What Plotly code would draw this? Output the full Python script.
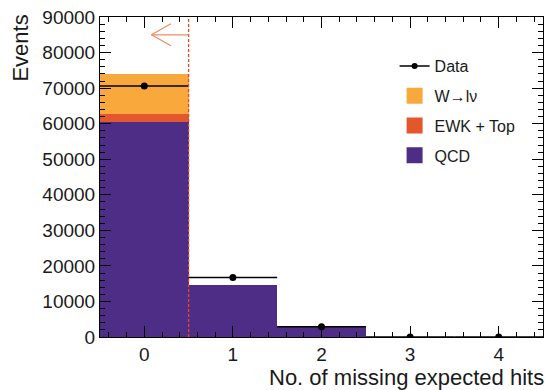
import plotly.graph_objects as go

# ---- data ----
bins = [0, 1, 2, 3, 4]
qcd = [60400, 14700, 3100, 0, 0]
ewk = [2300, 0, 0, 0, 0]
wlnu = [11200, 0, 0, 0, 0]
data = [70600, 16700, 2900, 0, 0]
bin_halfwidth = [0.5, 0.5, 0.5, 0.5, 0.5]

y_ticks = [0, 10000, 20000, 30000, 40000, 50000, 60000, 70000, 80000, 90000]
x_ticks = [0, 1, 2, 3, 4]

cut_value = 0.5
arrow_y = 85000
arrow_tip = 0.08

C_QCD = "#4E2D86"
C_EWK = "#E4572E"
C_W = "#F9A83C"
C_CUT = "#E8452A"
C_ARROW = "#F28A66"
TXT = "#1a1a1a"

FONT = "Liberation Sans, Arial, Helvetica, sans-serif"

fig = go.Figure()
fig.add_trace(go.Bar(x=bins, y=qcd, width=1, marker=dict(color=C_QCD, line=dict(width=0)),
                     name="QCD", showlegend=False))
fig.add_trace(go.Bar(x=bins, y=ewk, width=1, marker=dict(color=C_EWK, line=dict(width=0)),
                     name="EWK + Top", showlegend=False))
fig.add_trace(go.Bar(x=bins, y=wlnu, width=1, marker=dict(color=C_W, line=dict(width=0)),
                     name="W→lν", showlegend=False))
fig.add_trace(go.Scatter(x=bins, y=data, mode="markers",
                         marker=dict(color="black", size=7),
                         error_x=dict(type="data", array=bin_halfwidth, color="black",
                                      thickness=1.5, width=0),
                         showlegend=False))

# legend entries
fig.add_trace(go.Scatter(x=[None], y=[None], mode="lines+markers", name="Data",
                         line=dict(color="black", width=1.5),
                         marker=dict(color="black", size=6), legendgroup="a"))
for nm, col, grp in [("W→lν", C_W, "b"), ("EWK + Top", C_EWK, "c"), ("QCD", C_QCD, "d")]:
    fig.add_trace(go.Scatter(x=[None], y=[None], mode="markers", name=nm, legendgroup=grp,
                             marker=dict(symbol="square", size=20, color=col)))

# cut line and arrow
fig.add_shape(type="line", x0=cut_value, x1=cut_value, y0=0, y1=1, yref="paper",
              line=dict(color=C_CUT, width=1.3, dash="3px,2px"))
fig.add_shape(type="line", x0=cut_value, x1=arrow_tip, y0=arrow_y, y1=arrow_y,
              line=dict(color=C_ARROW, width=1.3))
fig.add_shape(type="line", x0=arrow_tip, x1=arrow_tip + 0.22, y0=arrow_y, y1=arrow_y + 3100,
              line=dict(color=C_ARROW, width=1.3))
fig.add_shape(type="line", x0=arrow_tip, x1=arrow_tip + 0.22, y0=arrow_y, y1=arrow_y - 3100,
              line=dict(color=C_ARROW, width=1.3))

axis_common = dict(showline=True, linecolor="black", linewidth=1, mirror="ticks",
                   ticks="inside", tickcolor="black", showgrid=False, zeroline=False,
                   tickfont=dict(size=19, color=TXT, family=FONT))

fig.update_xaxes(range=[-0.5, 4.5], tickvals=x_ticks, ticklen=11, tickwidth=1,
                 minor=dict(ticks="inside", dtick=0.2, tick0=0, ticklen=5, tickcolor="black"),
                 **axis_common)
fig.update_yaxes(range=[0, 90000], tickvals=y_ticks, tickformat="d", ticklen=11, tickwidth=1,
                 minor=dict(ticks="inside", dtick=2000, tick0=0, ticklen=5, tickcolor="black"),
                 **axis_common)

fig.add_annotation(text="No. of missing expected hits", xref="paper", yref="paper",
                   x=1.004, y=-0.128, xanchor="right", yanchor="middle", showarrow=False,
                   borderpad=0, font=dict(size=22, family=FONT, color=TXT))
fig.add_annotation(text="Events", xref="paper", yref="paper", textangle=-90,
                   x=-0.18, y=1.01, xanchor="center", yanchor="top", showarrow=False,
                   borderpad=0, font=dict(size=22, family=FONT, color=TXT))

fig.update_layout(
    width=546, height=390,
    margin=dict(l=100, r=3, t=17, b=53),
    barmode="stack", bargap=0,
    plot_bgcolor="white", paper_bgcolor="white",
    font=dict(family=FONT, color=TXT),
    legend=dict(x=0.665, y=0.9, xanchor="left", yanchor="top", traceorder="grouped",
                font=dict(size=16, family=FONT, color=TXT), itemsizing="trace",
                bgcolor="rgba(0,0,0,0)", tracegroupgap=6, itemwidth=30),
)

fig.write_html("out.html")
